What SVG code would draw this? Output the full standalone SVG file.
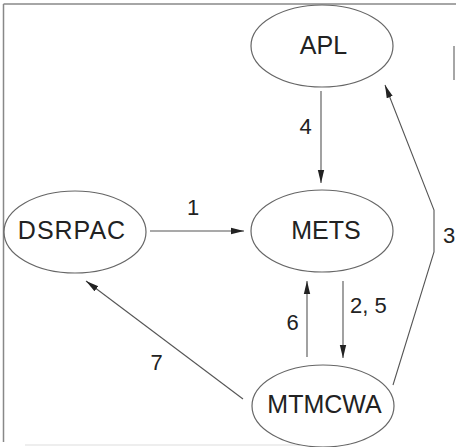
<svg xmlns="http://www.w3.org/2000/svg" width="456" height="447" viewBox="0 0 456 447">
  <style>
    .node ellipse { fill: #fff; stroke: #666; stroke-width: 1.2; }
    .node text { font-family: "Liberation Sans", Arial, sans-serif; font-size: 25px; fill: #222; text-anchor: middle; }
    .edge { fill: none; stroke: #555; stroke-width: 1.1; }
    .lbl { font-family: "Liberation Sans", Arial, sans-serif; font-size: 22px; fill: #222; }
    .frame { stroke: #888; stroke-width: 1.5; fill: none; }
  </style>
  <defs>
    <marker id="arrow" markerUnits="userSpaceOnUse" markerWidth="14" markerHeight="8" refX="13" refY="4" orient="auto">
      <path d="M0,0.8 L13,4 L0,7.2 Z" fill="#222"/>
    </marker>
  </defs>

  <rect width="456" height="447" fill="#fff"/>

  <!-- frame -->
  <g id="frame">
    <line class="frame" x1="3.5" y1="4" x2="456" y2="4"/>
    <line class="frame" x1="3.5" y1="4" x2="3.5" y2="442"/>
    <line class="frame" x1="454" y1="46" x2="454" y2="80" stroke-width="1"/>
    <line x1="25" y1="445" x2="300" y2="445" stroke="#ddd" stroke-width="1"/>
  </g>

  <!-- connectors -->
  <g id="connectors">
    <line class="edge" x1="321" y1="91" x2="321" y2="183" marker-end="url(#arrow)"/>
    <line class="edge" x1="150" y1="231" x2="244" y2="231" marker-end="url(#arrow)"/>
    <line class="edge" x1="307" y1="357" x2="307" y2="281" marker-end="url(#arrow)"/>
    <line class="edge" x1="343" y1="281" x2="343" y2="358" marker-end="url(#arrow)"/>
    <line class="edge" x1="243" y1="399" x2="86" y2="281" marker-end="url(#arrow)"/>
    <polyline class="edge" points="393,385 434,252 434,210 385,85" marker-end="url(#arrow)"/>
    <text class="lbl" x="305.5" y="134" text-anchor="middle">4</text>
    <text class="lbl" x="193" y="215" text-anchor="middle">1</text>
    <text class="lbl" x="292.5" y="330" text-anchor="middle">6</text>
    <text class="lbl" x="350" y="313">2, 5</text>
    <text class="lbl" x="156.5" y="370" text-anchor="middle">7</text>
    <text class="lbl" x="443" y="243">3</text>
  </g>

  <g id="APL" class="node">
    <ellipse cx="322" cy="46" rx="71" ry="41"/>
    <text x="323.5" y="54">APL</text>
  </g>
  <g id="METS" class="node">
    <ellipse cx="322" cy="231" rx="71" ry="41"/>
    <text x="326" y="239">METS</text>
  </g>
  <g id="DSRPAC" class="node">
    <ellipse cx="75" cy="232" rx="71" ry="41"/>
    <text x="72" y="239" letter-spacing="1">DSRPAC</text>
  </g>
  <g id="MTMCWA" class="node">
    <ellipse cx="323" cy="406" rx="71" ry="41"/>
    <text x="324.5" y="413">MTMCWA</text>
  </g>
</svg>
